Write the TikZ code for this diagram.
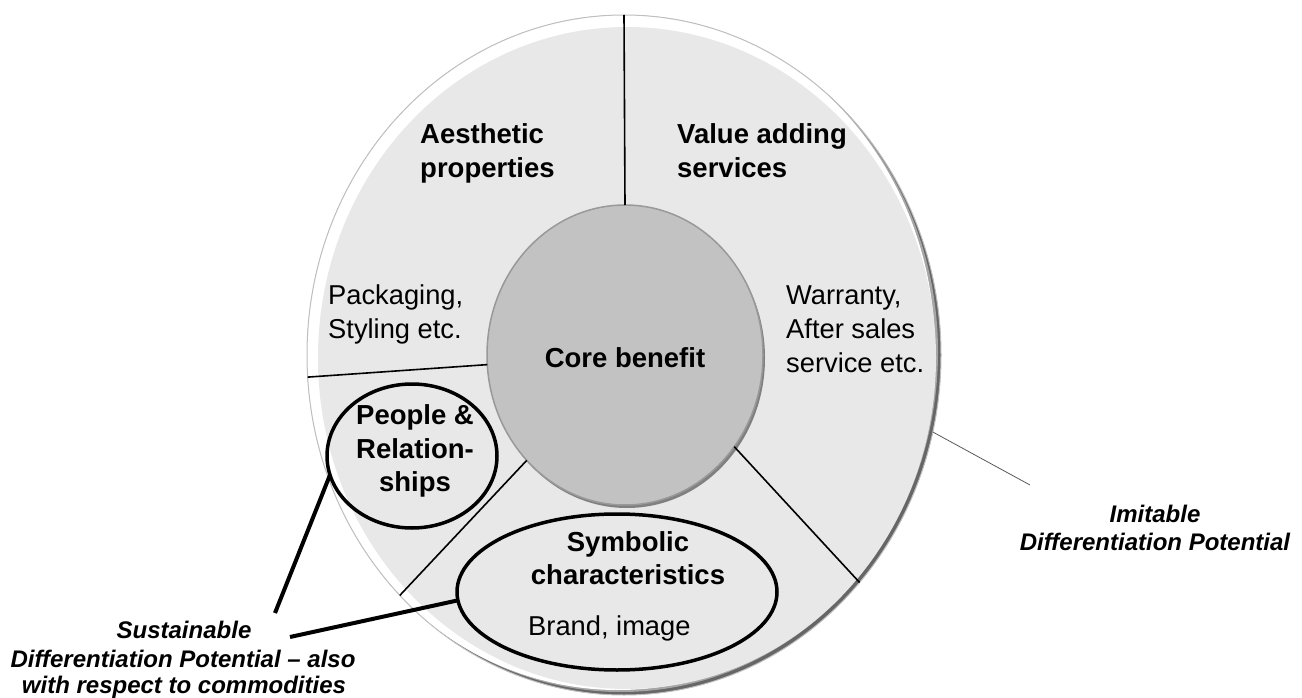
\documentclass[tikz,border=0pt]{standalone}
\usepackage{fontspec}
\setmainfont{Liberation Sans}
\usetikzlibrary{shapes.geometric}
\begin{document}
\begin{tikzpicture}[x=1pt,y=-1pt,
  disc/.style={ellipse, inner sep=0pt, outer sep=0pt},
  head/.style={font=\bfseries\fontsize{27.5}{33}\selectfont, inner sep=0pt},
  desc/.style={font=\fontsize{27.3}{33}\selectfont, inner sep=0pt},
  outlbl/.style={font=\bfseries\itshape\fontsize{24}{28}\selectfont, inner sep=0pt},
  divider/.style={draw=black, line width=1.6pt},
  ring/.style={disc, draw=black, line width=3.5pt},
  lead/.style={draw=black, line width=4pt},
]
\useasboundingbox (0,0) rectangle (1302,698);
% outer disc with rim
\begin{scope}
  \clip (624,355) ellipse [x radius=317pt, y radius=340pt];
  \fill[black!60] (290,0) rectangle (960,700);
  \fill[black!35] (621,352) ellipse [x radius=317pt, y radius=340pt];
  \fill[white] (618,350) ellipse [x radius=317pt, y radius=340pt];
  \fill[black!9] (627,358) ellipse [x radius=309pt, y radius=331pt];
\end{scope}
\node[disc, draw=black!25, line width=1pt, minimum width=634pt, minimum height=680pt] (outer) at (624,355) {};
% core
\node[disc, fill=black!50, minimum width=276pt, minimum height=300pt] (coreshadow) at (627,358) {};
\node[disc, fill=black!24, draw=black!40, line width=1.5pt, minimum width=276pt, minimum height=300pt] (core) at (625,355) {};
% dividers
\draw[divider] (outer.north) -- (core.north);
\draw[divider] (outer.184) -- (core.184);
\draw[divider] (outer.227) -- (core.227);
\draw[divider] (outer.316) -- (core.320);
% ellipses
\node[ring, minimum width=170pt, minimum height=144pt] (people) at (412,456) {};
\node[ring, minimum width=320pt, minimum height=156pt] (symb) at (617,592) {};
% leader lines
\coordinate (susA) at (275,613);
\coordinate (susB) at (290,637);
\coordinate (imend) at (1030,485);
\draw[lead] (people.193) -- (susA);
\draw[lead] (symb.183) -- (susB);
\draw[draw=black!65, line width=0.8pt] (outer.346) -- (imend);
% texts
\node[head, anchor=base west] (aes1) at (420,144) {Aesthetic};
\node[head, anchor=base west] (aes2) at (420,178) {properties};
\node[head, anchor=base west] (val1) at (677,144) {Value adding};
\node[head, anchor=base west] (val2) at (677,178) {services};
\node[desc, anchor=base west] (pack1) at (328,304) {Packaging,};
\node[desc, anchor=base west] (pack2) at (328,338) {Styling etc.};
\node[desc, anchor=base west] (war1) at (786,304) {Warranty,};
\node[desc, anchor=base west] (war2) at (786,338) {After sales};
\node[desc, anchor=base west] (war3) at (786,372) {service etc.};
\node[head, anchor=base] (corelbl) at (625,367) {Core benefit};
\node[head, anchor=base] (peo1) at (415,424) {People \&};
\node[head, anchor=base] (peo2) at (415,458) {Relation-};
\node[head, anchor=base] (peo3) at (415,491) {ships};
\node[head, anchor=base] (sym1) at (628,551) {Symbolic};
\node[head, anchor=base] (sym2) at (628,584) {characteristics};
\node[desc, anchor=base west] (brand) at (528,635) {Brand, image};
\node[outlbl, anchor=base] (imi1) at (1155,522) {Imitable};
\node[outlbl, anchor=base] (imi2) at (1155,550) {Differentiation Potential};
\node[outlbl, anchor=base] (sus1) at (184,638) {Sustainable};
\node[outlbl, anchor=base] (sus2) at (183,667) {Differentiation Potential -- also};
\node[outlbl, anchor=base] (sus3) at (184,693) {with respect to commodities};
\end{tikzpicture}
\end{document}
